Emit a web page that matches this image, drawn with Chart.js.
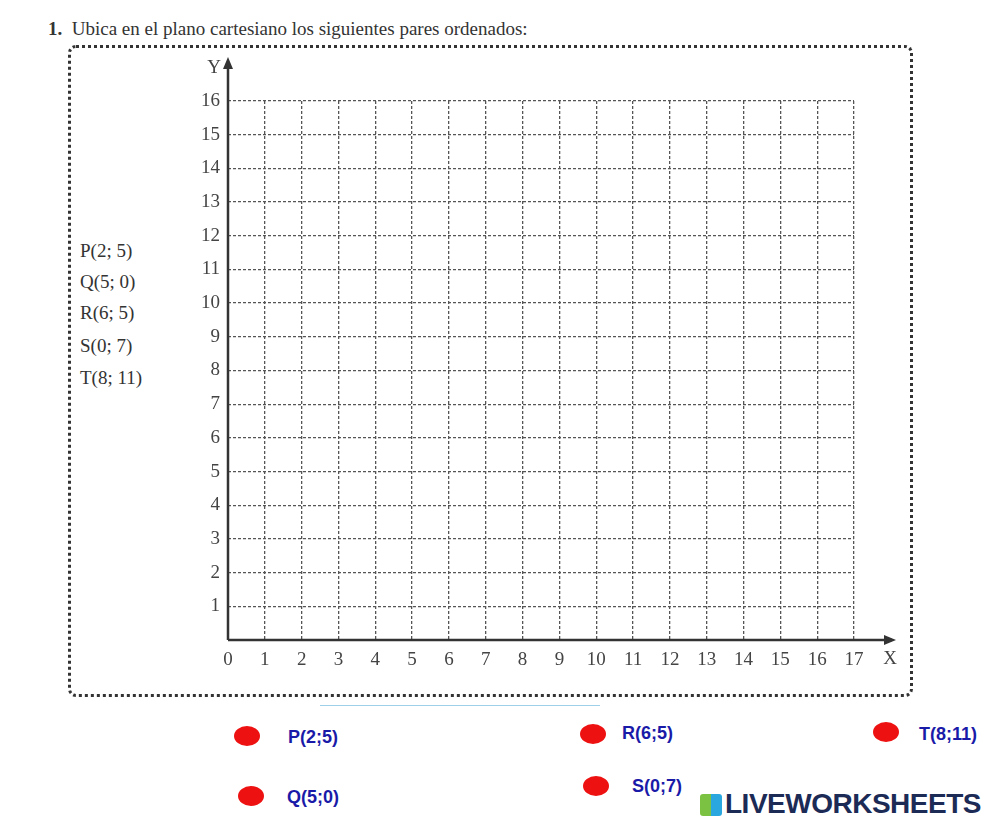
<!DOCTYPE html>
<html><head><meta charset="utf-8">
<script src="https://cdn.jsdelivr.net/npm/chart.js@4"></script>
<style>
body{margin:0;width:1000px;height:826px;background:#fff;position:relative;overflow:hidden;font-family:"Liberation Serif","DejaVu Serif",serif}
.a{position:absolute;white-space:nowrap}
canvas{position:absolute;left:0;top:0}
.dot{position:absolute;width:26px;height:20px;border-radius:50%;background:#ee1111}
.lab{position:absolute;font-family:"Liberation Sans",Arial,sans-serif;font-weight:bold;font-size:18px;color:#1a1aa8;transform:translateY(-50%)}
</style></head><body>
<div class="a" style="left:48px;top:18px;font-size:19px;color:#333"><b>1.</b>&nbsp; Ubica en el plano cartesiano los siguientes pares ordenados:</div>
<div class="a" style="left:68px;top:45px;width:839px;height:646px;border:3px dotted #333;border-radius:8px"></div>
<div id="list"></div>
<div class="a" style="left:320px;top:705px;width:280px;height:1px;background:#9fd0ea"></div>
<div id="items"></div>
<div class="a" style="left:700px;top:788px;font-family:'Liberation Sans',Arial,sans-serif;font-weight:bold;font-size:28px;color:#1c2a56;letter-spacing:-0.5px"><span style="display:inline-block;width:22px;height:22px;vertical-align:-3px;margin-right:3px;background:linear-gradient(90deg,#7cc242 50%,#2aa7df 50%);border-radius:3px"></span>LIVEWORKSHEETS</div>
<canvas id="c" width="1000" height="826"></canvas>
<script>
const xTicks=[0,1,2,3,4,5,6,7,8,9,10,11,12,13,14,15,16,17];
const yTicks=[1,2,3,4,5,6,7,8,9,10,11,12,13,14,15,16];
const pairNames=["P(2; 5)","Q(5; 0)","R(6; 5)","S(0; 7)","T(8; 11)"];
const itemNames=["P(2;5)","R(6;5)","T(8;11)","Q(5;0)","S(0;7)"];

const listTops=[252,283,314,347,379];
document.getElementById('list').innerHTML=pairNames.map((t,i)=>`<div class="a" style="left:80px;top:${listTops[i]-12}px;font-size:19px;color:#333">${t}</div>`).join('');
const itemPos=[[234,726,288,737],[580,724,622,733],[873,722,919,734],[238,786,287,797],[583,776,632,786]];
document.getElementById('items').innerHTML=itemNames.map((t,i)=>{const p=itemPos[i];return `<div class="dot" style="left:${p[0]}px;top:${p[1]}px"></div><div class="lab" style="left:${p[2]}px;top:${p[3]}px">${t}</div>`}).join('');

const axisDeco={id:'deco',afterDraw(ch){const c=ch.ctx,a=ch.chartArea;c.save();c.strokeStyle='#333';c.fillStyle='#333';c.lineWidth=2.5;
c.beginPath();c.moveTo(a.left,a.bottom);c.lineTo(a.right+38,a.bottom);c.moveTo(a.left,a.bottom);c.lineTo(a.left,a.top-38);c.stroke();
c.beginPath();c.moveTo(a.right+42,a.bottom);c.lineTo(a.right+30,a.bottom-5);c.lineTo(a.right+30,a.bottom+5);c.fill();
c.beginPath();c.moveTo(a.left,a.top-44);c.lineTo(a.left-5,a.top-32);c.lineTo(a.left+5,a.top-32);c.fill();
c.font='19px "Liberation Serif",serif';c.fillStyle='#444';c.textBaseline='middle';c.textAlign='center';
c.fillText('X',a.right+36,a.bottom+19);c.fillText('Y',a.left-14,a.top-33);c.restore();}};

new Chart(document.getElementById('c'),{type:'scatter',
data:{datasets:[{data:[],pointRadius:0}]},
options:{responsive:false,animation:false,events:[],
layout:{padding:{left:188,right:146,top:101,bottom:146}},
plugins:{legend:{display:false},tooltip:{enabled:false}},
scales:{
x:{type:'linear',min:0,max:17,afterFit(s){s.height=40},afterBuildTicks(s){s.ticks=xTicks.map(v=>({value:v}))},
 grid:{color:'#555',lineWidth:1.3,drawTicks:false},border:{display:false,dash:[3,2]},
 ticks:{color:'#444',padding:9,font:{family:'"Liberation Serif",serif',size:19}}},
y:{type:'linear',min:0,max:16,afterFit(s){s.width=40},afterBuildTicks(s){s.ticks=yTicks.map(v=>({value:v}))},
 grid:{color:'#555',lineWidth:1.3,drawTicks:false},border:{display:false,dash:[3,2]},
 ticks:{color:'#444',padding:8,font:{family:'"Liberation Serif",serif',size:19}}}
}},plugins:[axisDeco]});
</script></body></html>
